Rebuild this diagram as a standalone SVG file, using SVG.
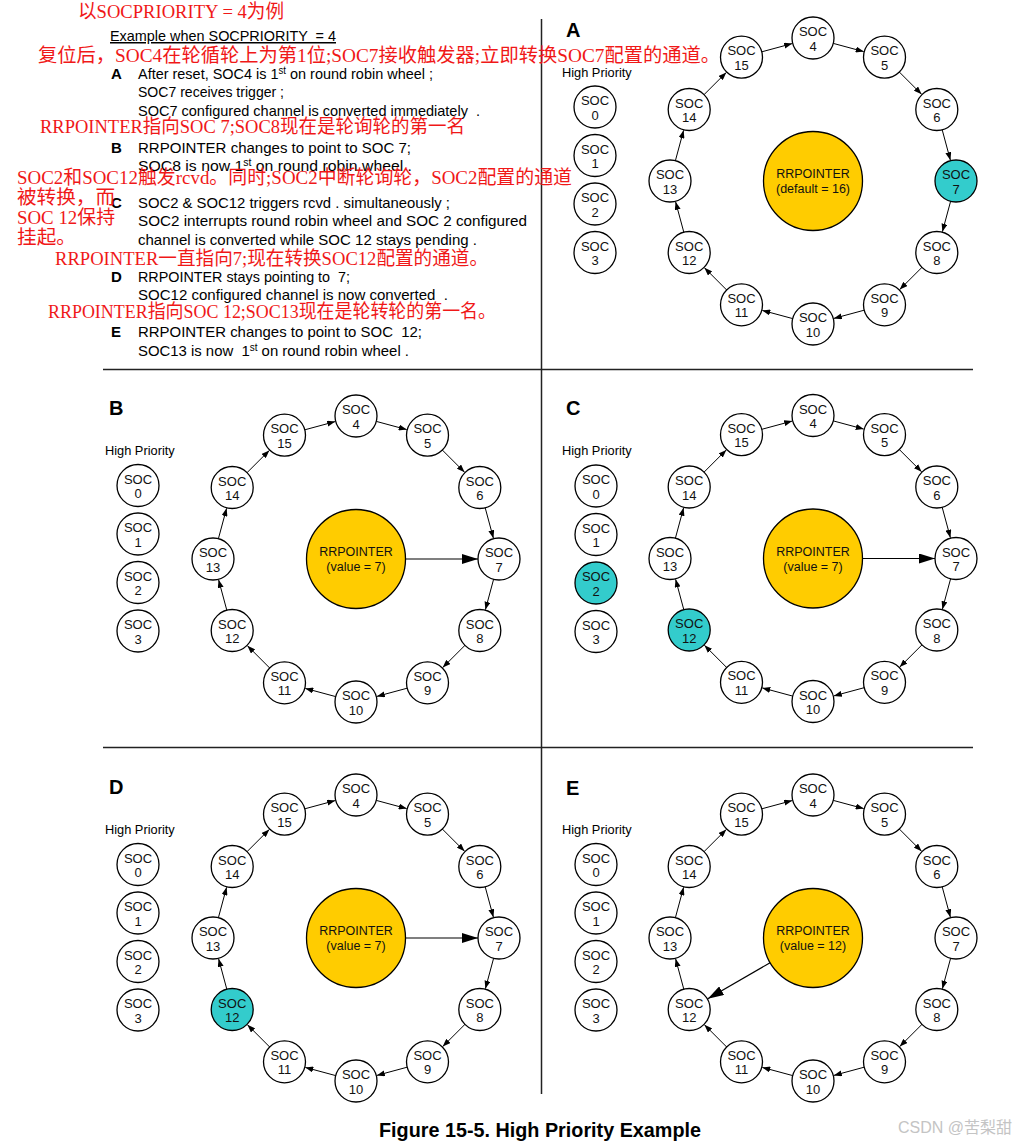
<svg xmlns="http://www.w3.org/2000/svg" width="1033" height="1144" viewBox="0 0 1033 1144">
<style>
.n circle{fill:#fff;stroke:#000;stroke-width:1.3}
.n.hl circle{fill:#33CCCC}
.rr circle{fill:#FFCC00;stroke:#000;stroke-width:1.3}
.nt{font-family:"Liberation Sans",Arial,sans-serif;font-size:13px;text-anchor:middle;fill:#111}
.rt{font-size:12.5px}
.conn line{stroke:#000;stroke-width:1;marker-end:url(#ah)}
.conn line.ptr{stroke-width:1.2;marker-end:url(#ahb)}
.sans{font-family:"Liberation Sans",Arial,sans-serif;fill:#000}
.hp{font-size:12.8px}
.pl{font-size:20px;font-weight:bold}
.desc text{font-size:15px;white-space:pre}
.desc text.lt{font-size:15px;font-weight:bold}
.red{font-family:"Liberation Serif","Noto Sans CJK SC",serif;font-size:19.5px;fill:#f01818}
.div{stroke:#222;stroke-width:1.5}
</style>
<defs>
<marker id="ah" markerUnits="userSpaceOnUse" markerWidth="8" markerHeight="6" refX="8" refY="3" orient="auto"><path d="M0,0 L8,3 L0,6 z" fill="#000"/></marker>
<marker id="ahb" markerUnits="userSpaceOnUse" markerWidth="16" markerHeight="10" refX="16" refY="5" orient="auto"><path d="M0,0 L16,5 L0,10 z" fill="#000"/></marker>
</defs>
<rect width="1033" height="1144" fill="#fff"/>

<g id="dividers">
<line class="div" x1="541.5" y1="19" x2="541.5" y2="1094"/>
<line class="div" x1="103" y1="369.5" x2="973" y2="369.5"/>
<line class="div" x1="103" y1="747.5" x2="973" y2="747.5"/>
</g>

<g id="description" class="sans desc">
<text x="110" y="41" text-decoration="underline" textLength="226" lengthAdjust="spacingAndGlyphs">Example when SOCPRIORITY  = 4</text>
<text class="lt" x="111" y="79">A</text>
<text x="138" y="79" textLength="295" lengthAdjust="spacingAndGlyphs">After reset, SOC4 is 1<tspan dy="-5" font-size="10">st</tspan><tspan dy="5"> on round robin wheel ;</tspan></text>
<text x="138" y="97" textLength="146" lengthAdjust="spacingAndGlyphs">SOC7 receives trigger ;</text>
<text x="138" y="116" textLength="342" lengthAdjust="spacingAndGlyphs">SOC7 configured channel is converted immediately  .</text>
<text class="lt" x="111" y="153">B</text>
<text x="138" y="153" textLength="273" lengthAdjust="spacingAndGlyphs">RRPOINTER changes to point to SOC 7;</text>
<text x="138" y="171" textLength="274" lengthAdjust="spacingAndGlyphs">SOC8 is now 1<tspan dy="-5" font-size="10">st</tspan><tspan dy="5"> on round robin wheel .</tspan></text>
<text class="lt" x="111" y="208">C</text>
<text x="138" y="208" textLength="312" lengthAdjust="spacingAndGlyphs">SOC2 &amp; SOC12 triggers rcvd . simultaneously ;</text>
<text x="138" y="226" textLength="389" lengthAdjust="spacingAndGlyphs">SOC2 interrupts round robin wheel and SOC 2 configured</text>
<text x="138" y="245" textLength="339" lengthAdjust="spacingAndGlyphs">channel is converted while SOC 12 stays pending .</text>
<text class="lt" x="111" y="282">D</text>
<text x="138" y="282" textLength="212" lengthAdjust="spacingAndGlyphs">RRPOINTER stays pointing to  7;</text>
<text x="138" y="300" textLength="310" lengthAdjust="spacingAndGlyphs">SOC12 configured channel is now converted  .</text>
<text class="lt" x="111" y="337">E</text>
<text x="138" y="337" textLength="284" lengthAdjust="spacingAndGlyphs">RRPOINTER changes to point to SOC  12;</text>
<text x="138" y="356" textLength="271" lengthAdjust="spacingAndGlyphs">SOC13 is now  1<tspan dy="-5" font-size="10">st</tspan><tspan dy="5"> on round robin wheel .</tspan></text>
</g>

<g id="annotations" class="red">
<text x="78" y="18" textLength="206" lengthAdjust="spacingAndGlyphs">以SOCPRIORITY = 4为例</text>
<text x="38" y="62" textLength="682" lengthAdjust="spacingAndGlyphs">复位后，SOC4在轮循轮上为第1位;SOC7接收触发器;立即转换SOC7配置的通道。</text>
<text x="40" y="133" textLength="425" lengthAdjust="spacingAndGlyphs">RRPOINTER指向SOC 7;SOC8现在是轮询轮的第一名</text>
<text x="17" y="184" textLength="555" lengthAdjust="spacingAndGlyphs">SOC2和SOC12触发rcvd。同时;SOC2中断轮询轮，SOC2配置的通道</text>
<text x="17" y="204" textLength="98" lengthAdjust="spacingAndGlyphs">被转换，而</text>
<text x="17" y="224" textLength="98" lengthAdjust="spacingAndGlyphs">SOC 12保持</text>
<text x="17" y="244" textLength="59" lengthAdjust="spacingAndGlyphs">挂起。</text>
<text x="55" y="265" textLength="433" lengthAdjust="spacingAndGlyphs">RRPOINTER一直指向7;现在转换SOC12配置的通道。</text>
<text x="48" y="318" textLength="448" lengthAdjust="spacingAndGlyphs">RRPOINTER指向SOC 12;SOC13现在是轮转轮的第一名。</text>
</g>

<!-- Panel A -->
<g id="panelA" transform="translate(813,181)">
<text class="sans pl" x="-247" y="-144">A</text>
<text class="sans hp" x="-251" y="-104.5">High Priority</text>
<g id="A-soc0" class="n" transform="translate(-218,-74)"><circle r="21"/><text class="nt"><tspan x="0" y="-2">SOC</tspan><tspan x="0" y="12.5">0</tspan></text></g>
<g id="A-soc1" class="n" transform="translate(-218,-25.5)"><circle r="21"/><text class="nt"><tspan x="0" y="-2">SOC</tspan><tspan x="0" y="12.5">1</tspan></text></g>
<g id="A-soc2" class="n" transform="translate(-218,23)"><circle r="21"/><text class="nt"><tspan x="0" y="-2">SOC</tspan><tspan x="0" y="12.5">2</tspan></text></g>
<g id="A-soc3" class="n" transform="translate(-218,71.5)"><circle r="21"/><text class="nt"><tspan x="0" y="-2">SOC</tspan><tspan x="0" y="12.5">3</tspan></text></g>
<g id="A-rr" class="rr"><circle r="49.5"/><text class="nt rt"><tspan x="0" y="-3">RRPOINTER</tspan><tspan x="0" y="12">(default = 16)</tspan></text></g>
<g id="A-soc4" class="n" transform="translate(0,-143)"><circle r="21"/><text class="nt"><tspan x="0" y="-2">SOC</tspan><tspan x="0" y="12.5">4</tspan></text></g>
<g id="A-soc5" class="n" transform="translate(71.5,-123.8)"><circle r="21"/><text class="nt"><tspan x="0" y="-2">SOC</tspan><tspan x="0" y="12.5">5</tspan></text></g>
<g id="A-soc6" class="n" transform="translate(123.8,-71.5)"><circle r="21"/><text class="nt"><tspan x="0" y="-2">SOC</tspan><tspan x="0" y="12.5">6</tspan></text></g>
<g id="A-soc7" class="n hl" transform="translate(143,0)"><circle r="21"/><text class="nt"><tspan x="0" y="-2">SOC</tspan><tspan x="0" y="12.5">7</tspan></text></g>
<g id="A-soc8" class="n" transform="translate(123.8,71.5)"><circle r="21"/><text class="nt"><tspan x="0" y="-2">SOC</tspan><tspan x="0" y="12.5">8</tspan></text></g>
<g id="A-soc9" class="n" transform="translate(71.5,123.8)"><circle r="21"/><text class="nt"><tspan x="0" y="-2">SOC</tspan><tspan x="0" y="12.5">9</tspan></text></g>
<g id="A-soc10" class="n" transform="translate(0,143)"><circle r="21"/><text class="nt"><tspan x="0" y="-2">SOC</tspan><tspan x="0" y="12.5">10</tspan></text></g>
<g id="A-soc11" class="n" transform="translate(-71.5,123.8)"><circle r="21"/><text class="nt"><tspan x="0" y="-2">SOC</tspan><tspan x="0" y="12.5">11</tspan></text></g>
<g id="A-soc12" class="n" transform="translate(-123.8,71.5)"><circle r="21"/><text class="nt"><tspan x="0" y="-2">SOC</tspan><tspan x="0" y="12.5">12</tspan></text></g>
<g id="A-soc13" class="n" transform="translate(-143,0)"><circle r="21"/><text class="nt"><tspan x="0" y="-2">SOC</tspan><tspan x="0" y="12.5">13</tspan></text></g>
<g id="A-soc14" class="n" transform="translate(-123.8,-71.5)"><circle r="21"/><text class="nt"><tspan x="0" y="-2">SOC</tspan><tspan x="0" y="12.5">14</tspan></text></g>
<g id="A-soc15" class="n" transform="translate(-71.5,-123.8)"><circle r="21"/><text class="nt"><tspan x="0" y="-2">SOC</tspan><tspan x="0" y="12.5">15</tspan></text></g>
<g id="A-connectors" class="conn">
<line x1="20.3" y1="-137.6" x2="50.7" y2="-129.4"/>
<line x1="86.3" y1="-109" x2="108.6" y2="-86.7"/>
<line x1="129.2" y1="-51.2" x2="137.4" y2="-20.8"/>
<line x1="137.6" y1="20.3" x2="129.4" y2="50.7"/>
<line x1="109" y1="86.3" x2="86.7" y2="108.6"/>
<line x1="51.2" y1="129.2" x2="20.8" y2="137.4"/>
<line x1="-20.3" y1="137.6" x2="-50.7" y2="129.4"/>
<line x1="-86.3" y1="109" x2="-108.6" y2="86.7"/>
<line x1="-129.2" y1="51.2" x2="-137.4" y2="20.8"/>
<line x1="-137.6" y1="-20.3" x2="-129.4" y2="-50.7"/>
<line x1="-109" y1="-86.3" x2="-86.7" y2="-108.6"/>
<line x1="-51.2" y1="-129.2" x2="-20.8" y2="-137.4"/>
</g>
</g>

<!-- Panel B -->
<g id="panelB" transform="translate(356,559)">
<text class="sans pl" x="-247" y="-144">B</text>
<text class="sans hp" x="-251" y="-104.5">High Priority</text>
<g id="B-soc0" class="n" transform="translate(-218,-73.5)"><circle r="21"/><text class="nt"><tspan x="0" y="-2">SOC</tspan><tspan x="0" y="12.5">0</tspan></text></g>
<g id="B-soc1" class="n" transform="translate(-218,-25)"><circle r="21"/><text class="nt"><tspan x="0" y="-2">SOC</tspan><tspan x="0" y="12.5">1</tspan></text></g>
<g id="B-soc2" class="n" transform="translate(-218,23.5)"><circle r="21"/><text class="nt"><tspan x="0" y="-2">SOC</tspan><tspan x="0" y="12.5">2</tspan></text></g>
<g id="B-soc3" class="n" transform="translate(-218,72)"><circle r="21"/><text class="nt"><tspan x="0" y="-2">SOC</tspan><tspan x="0" y="12.5">3</tspan></text></g>
<g id="B-rr" class="rr"><circle r="49.5"/><text class="nt rt"><tspan x="0" y="-3">RRPOINTER</tspan><tspan x="0" y="12">(value = 7)</tspan></text></g>
<g id="B-soc4" class="n" transform="translate(0,-143)"><circle r="21"/><text class="nt"><tspan x="0" y="-2">SOC</tspan><tspan x="0" y="12.5">4</tspan></text></g>
<g id="B-soc5" class="n" transform="translate(71.5,-123.8)"><circle r="21"/><text class="nt"><tspan x="0" y="-2">SOC</tspan><tspan x="0" y="12.5">5</tspan></text></g>
<g id="B-soc6" class="n" transform="translate(123.8,-71.5)"><circle r="21"/><text class="nt"><tspan x="0" y="-2">SOC</tspan><tspan x="0" y="12.5">6</tspan></text></g>
<g id="B-soc7" class="n" transform="translate(143,0)"><circle r="21"/><text class="nt"><tspan x="0" y="-2">SOC</tspan><tspan x="0" y="12.5">7</tspan></text></g>
<g id="B-soc8" class="n" transform="translate(123.8,71.5)"><circle r="21"/><text class="nt"><tspan x="0" y="-2">SOC</tspan><tspan x="0" y="12.5">8</tspan></text></g>
<g id="B-soc9" class="n" transform="translate(71.5,123.8)"><circle r="21"/><text class="nt"><tspan x="0" y="-2">SOC</tspan><tspan x="0" y="12.5">9</tspan></text></g>
<g id="B-soc10" class="n" transform="translate(0,143)"><circle r="21"/><text class="nt"><tspan x="0" y="-2">SOC</tspan><tspan x="0" y="12.5">10</tspan></text></g>
<g id="B-soc11" class="n" transform="translate(-71.5,123.8)"><circle r="21"/><text class="nt"><tspan x="0" y="-2">SOC</tspan><tspan x="0" y="12.5">11</tspan></text></g>
<g id="B-soc12" class="n" transform="translate(-123.8,71.5)"><circle r="21"/><text class="nt"><tspan x="0" y="-2">SOC</tspan><tspan x="0" y="12.5">12</tspan></text></g>
<g id="B-soc13" class="n" transform="translate(-143,0)"><circle r="21"/><text class="nt"><tspan x="0" y="-2">SOC</tspan><tspan x="0" y="12.5">13</tspan></text></g>
<g id="B-soc14" class="n" transform="translate(-123.8,-71.5)"><circle r="21"/><text class="nt"><tspan x="0" y="-2">SOC</tspan><tspan x="0" y="12.5">14</tspan></text></g>
<g id="B-soc15" class="n" transform="translate(-71.5,-123.8)"><circle r="21"/><text class="nt"><tspan x="0" y="-2">SOC</tspan><tspan x="0" y="12.5">15</tspan></text></g>
<g id="B-connectors" class="conn">
<line x1="20.3" y1="-137.6" x2="50.7" y2="-129.4"/>
<line x1="86.3" y1="-109" x2="108.6" y2="-86.7"/>
<line x1="129.2" y1="-51.2" x2="137.4" y2="-20.8"/>
<line x1="137.6" y1="20.3" x2="129.4" y2="50.7"/>
<line x1="109" y1="86.3" x2="86.7" y2="108.6"/>
<line x1="51.2" y1="129.2" x2="20.8" y2="137.4"/>
<line x1="-20.3" y1="137.6" x2="-50.7" y2="129.4"/>
<line x1="-86.3" y1="109" x2="-108.6" y2="86.7"/>
<line x1="-129.2" y1="51.2" x2="-137.4" y2="20.8"/>
<line x1="-137.6" y1="-20.3" x2="-129.4" y2="-50.7"/>
<line x1="-109" y1="-86.3" x2="-86.7" y2="-108.6"/>
<line x1="-51.2" y1="-129.2" x2="-20.8" y2="-137.4"/>
<line class="ptr" x1="49.5" y1="0" x2="122" y2="0"/>
</g>
</g>

<!-- Panel C -->
<g id="panelC" transform="translate(813,558.5)">
<text class="sans pl" x="-247" y="-143.5">C</text>
<text class="sans hp" x="-251" y="-103.5">High Priority</text>
<g id="C-soc0" class="n" transform="translate(-217,-72.5)"><circle r="21"/><text class="nt"><tspan x="0" y="-2">SOC</tspan><tspan x="0" y="12.5">0</tspan></text></g>
<g id="C-soc1" class="n" transform="translate(-217,-24)"><circle r="21"/><text class="nt"><tspan x="0" y="-2">SOC</tspan><tspan x="0" y="12.5">1</tspan></text></g>
<g id="C-soc2" class="n hl" transform="translate(-217,24.5)"><circle r="21"/><text class="nt"><tspan x="0" y="-2">SOC</tspan><tspan x="0" y="12.5">2</tspan></text></g>
<g id="C-soc3" class="n" transform="translate(-217,73)"><circle r="21"/><text class="nt"><tspan x="0" y="-2">SOC</tspan><tspan x="0" y="12.5">3</tspan></text></g>
<g id="C-rr" class="rr"><circle r="49.5"/><text class="nt rt"><tspan x="0" y="-3">RRPOINTER</tspan><tspan x="0" y="12">(value = 7)</tspan></text></g>
<g id="C-soc4" class="n" transform="translate(0,-143)"><circle r="21"/><text class="nt"><tspan x="0" y="-2">SOC</tspan><tspan x="0" y="12.5">4</tspan></text></g>
<g id="C-soc5" class="n" transform="translate(71.5,-123.8)"><circle r="21"/><text class="nt"><tspan x="0" y="-2">SOC</tspan><tspan x="0" y="12.5">5</tspan></text></g>
<g id="C-soc6" class="n" transform="translate(123.8,-71.5)"><circle r="21"/><text class="nt"><tspan x="0" y="-2">SOC</tspan><tspan x="0" y="12.5">6</tspan></text></g>
<g id="C-soc7" class="n" transform="translate(143,0)"><circle r="21"/><text class="nt"><tspan x="0" y="-2">SOC</tspan><tspan x="0" y="12.5">7</tspan></text></g>
<g id="C-soc8" class="n" transform="translate(123.8,71.5)"><circle r="21"/><text class="nt"><tspan x="0" y="-2">SOC</tspan><tspan x="0" y="12.5">8</tspan></text></g>
<g id="C-soc9" class="n" transform="translate(71.5,123.8)"><circle r="21"/><text class="nt"><tspan x="0" y="-2">SOC</tspan><tspan x="0" y="12.5">9</tspan></text></g>
<g id="C-soc10" class="n" transform="translate(0,143)"><circle r="21"/><text class="nt"><tspan x="0" y="-2">SOC</tspan><tspan x="0" y="12.5">10</tspan></text></g>
<g id="C-soc11" class="n" transform="translate(-71.5,123.8)"><circle r="21"/><text class="nt"><tspan x="0" y="-2">SOC</tspan><tspan x="0" y="12.5">11</tspan></text></g>
<g id="C-soc12" class="n hl" transform="translate(-123.8,71.5)"><circle r="21"/><text class="nt"><tspan x="0" y="-2">SOC</tspan><tspan x="0" y="12.5">12</tspan></text></g>
<g id="C-soc13" class="n" transform="translate(-143,0)"><circle r="21"/><text class="nt"><tspan x="0" y="-2">SOC</tspan><tspan x="0" y="12.5">13</tspan></text></g>
<g id="C-soc14" class="n" transform="translate(-123.8,-71.5)"><circle r="21"/><text class="nt"><tspan x="0" y="-2">SOC</tspan><tspan x="0" y="12.5">14</tspan></text></g>
<g id="C-soc15" class="n" transform="translate(-71.5,-123.8)"><circle r="21"/><text class="nt"><tspan x="0" y="-2">SOC</tspan><tspan x="0" y="12.5">15</tspan></text></g>
<g id="C-connectors" class="conn">
<line x1="20.3" y1="-137.6" x2="50.7" y2="-129.4"/>
<line x1="86.3" y1="-109" x2="108.6" y2="-86.7"/>
<line x1="129.2" y1="-51.2" x2="137.4" y2="-20.8"/>
<line x1="137.6" y1="20.3" x2="129.4" y2="50.7"/>
<line x1="109" y1="86.3" x2="86.7" y2="108.6"/>
<line x1="51.2" y1="129.2" x2="20.8" y2="137.4"/>
<line x1="-20.3" y1="137.6" x2="-50.7" y2="129.4"/>
<line x1="-86.3" y1="109" x2="-108.6" y2="86.7"/>
<line x1="-129.2" y1="51.2" x2="-137.4" y2="20.8"/>
<line x1="-137.6" y1="-20.3" x2="-129.4" y2="-50.7"/>
<line x1="-109" y1="-86.3" x2="-86.7" y2="-108.6"/>
<line x1="-51.2" y1="-129.2" x2="-20.8" y2="-137.4"/>
<line class="ptr" x1="49.5" y1="0" x2="122" y2="0"/>
</g>
</g>

<!-- Panel D -->
<g id="panelD" transform="translate(356,938)">
<text class="sans pl" x="-247" y="-144">D</text>
<text class="sans hp" x="-251" y="-104.5">High Priority</text>
<g id="D-soc0" class="n" transform="translate(-218,-73.5)"><circle r="21"/><text class="nt"><tspan x="0" y="-2">SOC</tspan><tspan x="0" y="12.5">0</tspan></text></g>
<g id="D-soc1" class="n" transform="translate(-218,-25)"><circle r="21"/><text class="nt"><tspan x="0" y="-2">SOC</tspan><tspan x="0" y="12.5">1</tspan></text></g>
<g id="D-soc2" class="n" transform="translate(-218,23.5)"><circle r="21"/><text class="nt"><tspan x="0" y="-2">SOC</tspan><tspan x="0" y="12.5">2</tspan></text></g>
<g id="D-soc3" class="n" transform="translate(-218,72)"><circle r="21"/><text class="nt"><tspan x="0" y="-2">SOC</tspan><tspan x="0" y="12.5">3</tspan></text></g>
<g id="D-rr" class="rr"><circle r="49.5"/><text class="nt rt"><tspan x="0" y="-3">RRPOINTER</tspan><tspan x="0" y="12">(value = 7)</tspan></text></g>
<g id="D-soc4" class="n" transform="translate(0,-143)"><circle r="21"/><text class="nt"><tspan x="0" y="-2">SOC</tspan><tspan x="0" y="12.5">4</tspan></text></g>
<g id="D-soc5" class="n" transform="translate(71.5,-123.8)"><circle r="21"/><text class="nt"><tspan x="0" y="-2">SOC</tspan><tspan x="0" y="12.5">5</tspan></text></g>
<g id="D-soc6" class="n" transform="translate(123.8,-71.5)"><circle r="21"/><text class="nt"><tspan x="0" y="-2">SOC</tspan><tspan x="0" y="12.5">6</tspan></text></g>
<g id="D-soc7" class="n" transform="translate(143,0)"><circle r="21"/><text class="nt"><tspan x="0" y="-2">SOC</tspan><tspan x="0" y="12.5">7</tspan></text></g>
<g id="D-soc8" class="n" transform="translate(123.8,71.5)"><circle r="21"/><text class="nt"><tspan x="0" y="-2">SOC</tspan><tspan x="0" y="12.5">8</tspan></text></g>
<g id="D-soc9" class="n" transform="translate(71.5,123.8)"><circle r="21"/><text class="nt"><tspan x="0" y="-2">SOC</tspan><tspan x="0" y="12.5">9</tspan></text></g>
<g id="D-soc10" class="n" transform="translate(0,143)"><circle r="21"/><text class="nt"><tspan x="0" y="-2">SOC</tspan><tspan x="0" y="12.5">10</tspan></text></g>
<g id="D-soc11" class="n" transform="translate(-71.5,123.8)"><circle r="21"/><text class="nt"><tspan x="0" y="-2">SOC</tspan><tspan x="0" y="12.5">11</tspan></text></g>
<g id="D-soc12" class="n hl" transform="translate(-123.8,71.5)"><circle r="21"/><text class="nt"><tspan x="0" y="-2">SOC</tspan><tspan x="0" y="12.5">12</tspan></text></g>
<g id="D-soc13" class="n" transform="translate(-143,0)"><circle r="21"/><text class="nt"><tspan x="0" y="-2">SOC</tspan><tspan x="0" y="12.5">13</tspan></text></g>
<g id="D-soc14" class="n" transform="translate(-123.8,-71.5)"><circle r="21"/><text class="nt"><tspan x="0" y="-2">SOC</tspan><tspan x="0" y="12.5">14</tspan></text></g>
<g id="D-soc15" class="n" transform="translate(-71.5,-123.8)"><circle r="21"/><text class="nt"><tspan x="0" y="-2">SOC</tspan><tspan x="0" y="12.5">15</tspan></text></g>
<g id="D-connectors" class="conn">
<line x1="20.3" y1="-137.6" x2="50.7" y2="-129.4"/>
<line x1="86.3" y1="-109" x2="108.6" y2="-86.7"/>
<line x1="129.2" y1="-51.2" x2="137.4" y2="-20.8"/>
<line x1="137.6" y1="20.3" x2="129.4" y2="50.7"/>
<line x1="109" y1="86.3" x2="86.7" y2="108.6"/>
<line x1="51.2" y1="129.2" x2="20.8" y2="137.4"/>
<line x1="-20.3" y1="137.6" x2="-50.7" y2="129.4"/>
<line x1="-86.3" y1="109" x2="-108.6" y2="86.7"/>
<line x1="-129.2" y1="51.2" x2="-137.4" y2="20.8"/>
<line x1="-137.6" y1="-20.3" x2="-129.4" y2="-50.7"/>
<line x1="-109" y1="-86.3" x2="-86.7" y2="-108.6"/>
<line x1="-51.2" y1="-129.2" x2="-20.8" y2="-137.4"/>
<line class="ptr" x1="49.5" y1="0" x2="122" y2="0"/>
</g>
</g>

<!-- Panel E -->
<g id="panelE" transform="translate(813,938)">
<text class="sans pl" x="-247" y="-143">E</text>
<text class="sans hp" x="-251" y="-104">High Priority</text>
<g id="E-soc0" class="n" transform="translate(-217,-73.5)"><circle r="21"/><text class="nt"><tspan x="0" y="-2">SOC</tspan><tspan x="0" y="12.5">0</tspan></text></g>
<g id="E-soc1" class="n" transform="translate(-217,-25)"><circle r="21"/><text class="nt"><tspan x="0" y="-2">SOC</tspan><tspan x="0" y="12.5">1</tspan></text></g>
<g id="E-soc2" class="n" transform="translate(-217,23.5)"><circle r="21"/><text class="nt"><tspan x="0" y="-2">SOC</tspan><tspan x="0" y="12.5">2</tspan></text></g>
<g id="E-soc3" class="n" transform="translate(-217,72)"><circle r="21"/><text class="nt"><tspan x="0" y="-2">SOC</tspan><tspan x="0" y="12.5">3</tspan></text></g>
<g id="E-rr" class="rr"><circle r="49.5"/><text class="nt rt"><tspan x="0" y="-3">RRPOINTER</tspan><tspan x="0" y="12">(value = 12)</tspan></text></g>
<g id="E-soc4" class="n" transform="translate(0,-143)"><circle r="21"/><text class="nt"><tspan x="0" y="-2">SOC</tspan><tspan x="0" y="12.5">4</tspan></text></g>
<g id="E-soc5" class="n" transform="translate(71.5,-123.8)"><circle r="21"/><text class="nt"><tspan x="0" y="-2">SOC</tspan><tspan x="0" y="12.5">5</tspan></text></g>
<g id="E-soc6" class="n" transform="translate(123.8,-71.5)"><circle r="21"/><text class="nt"><tspan x="0" y="-2">SOC</tspan><tspan x="0" y="12.5">6</tspan></text></g>
<g id="E-soc7" class="n" transform="translate(143,0)"><circle r="21"/><text class="nt"><tspan x="0" y="-2">SOC</tspan><tspan x="0" y="12.5">7</tspan></text></g>
<g id="E-soc8" class="n" transform="translate(123.8,71.5)"><circle r="21"/><text class="nt"><tspan x="0" y="-2">SOC</tspan><tspan x="0" y="12.5">8</tspan></text></g>
<g id="E-soc9" class="n" transform="translate(71.5,123.8)"><circle r="21"/><text class="nt"><tspan x="0" y="-2">SOC</tspan><tspan x="0" y="12.5">9</tspan></text></g>
<g id="E-soc10" class="n" transform="translate(0,143)"><circle r="21"/><text class="nt"><tspan x="0" y="-2">SOC</tspan><tspan x="0" y="12.5">10</tspan></text></g>
<g id="E-soc11" class="n" transform="translate(-71.5,123.8)"><circle r="21"/><text class="nt"><tspan x="0" y="-2">SOC</tspan><tspan x="0" y="12.5">11</tspan></text></g>
<g id="E-soc12" class="n" transform="translate(-123.8,71.5)"><circle r="21"/><text class="nt"><tspan x="0" y="-2">SOC</tspan><tspan x="0" y="12.5">12</tspan></text></g>
<g id="E-soc13" class="n" transform="translate(-143,0)"><circle r="21"/><text class="nt"><tspan x="0" y="-2">SOC</tspan><tspan x="0" y="12.5">13</tspan></text></g>
<g id="E-soc14" class="n" transform="translate(-123.8,-71.5)"><circle r="21"/><text class="nt"><tspan x="0" y="-2">SOC</tspan><tspan x="0" y="12.5">14</tspan></text></g>
<g id="E-soc15" class="n" transform="translate(-71.5,-123.8)"><circle r="21"/><text class="nt"><tspan x="0" y="-2">SOC</tspan><tspan x="0" y="12.5">15</tspan></text></g>
<g id="E-connectors" class="conn">
<line x1="20.3" y1="-137.6" x2="50.7" y2="-129.4"/>
<line x1="86.3" y1="-109" x2="108.6" y2="-86.7"/>
<line x1="129.2" y1="-51.2" x2="137.4" y2="-20.8"/>
<line x1="137.6" y1="20.3" x2="129.4" y2="50.7"/>
<line x1="109" y1="86.3" x2="86.7" y2="108.6"/>
<line x1="51.2" y1="129.2" x2="20.8" y2="137.4"/>
<line x1="-20.3" y1="137.6" x2="-50.7" y2="129.4"/>
<line x1="-86.3" y1="109" x2="-108.6" y2="86.7"/>
<line x1="-129.2" y1="51.2" x2="-137.4" y2="20.8"/>
<line x1="-137.6" y1="-20.3" x2="-129.4" y2="-50.7"/>
<line x1="-109" y1="-86.3" x2="-86.7" y2="-108.6"/>
<line x1="-51.2" y1="-129.2" x2="-20.8" y2="-137.4"/>
<line class="ptr" x1="-42.9" y1="24.75" x2="-105.2" y2="60.75"/>
</g>
</g>

<g id="caption">
<text class="sans" x="379" y="1137" font-size="19.5" font-weight="bold" textLength="322" lengthAdjust="spacingAndGlyphs">Figure 15-5. High Priority Example</text>
<text x="898" y="1133" font-family="'Liberation Sans','Noto Sans CJK SC',sans-serif" font-size="16" fill="#c4c4c4">CSDN @苦梨甜</text>
</g>
</svg>
